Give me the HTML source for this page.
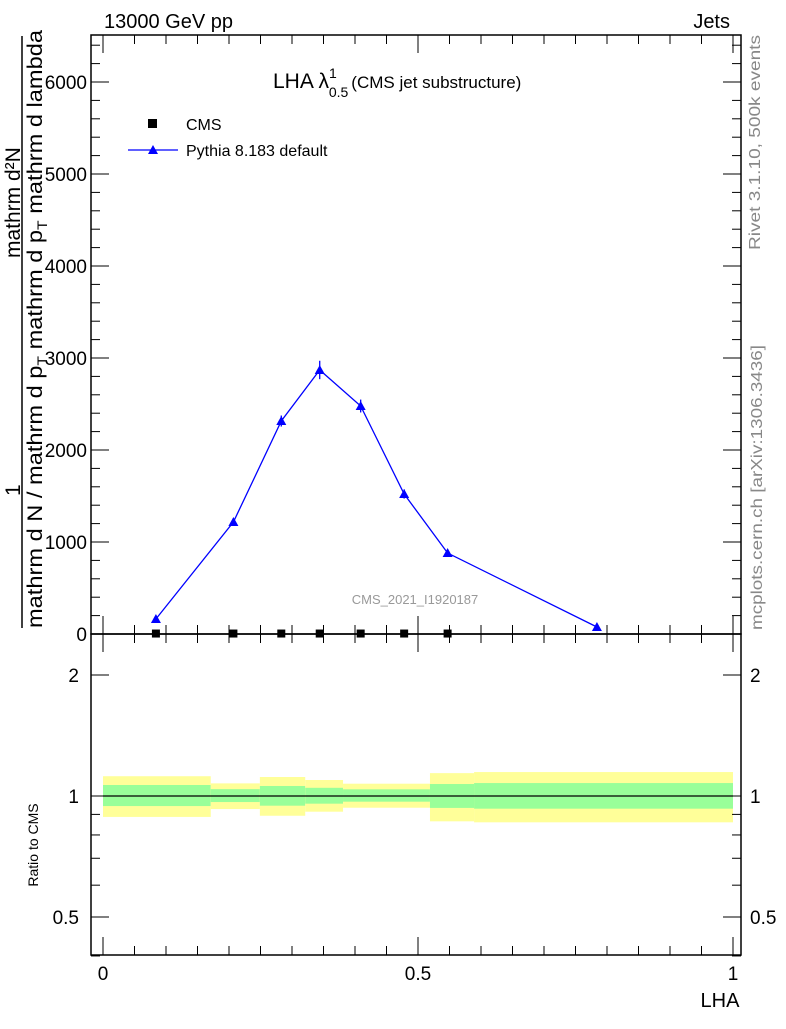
<!DOCTYPE html>
<html><head><meta charset="utf-8"><style>
body{margin:0;background:#fff;}
svg text{font-family:"Liberation Sans",sans-serif;}
</style></head><body>
<svg id="c" width="786" height="1024" viewBox="0 0 786 1024" xmlns="http://www.w3.org/2000/svg">
<g id="bands"></g>
<g id="main"></g>
<g id="axes"></g>
<text x="104" y="28" font-size="20">13000 GeV pp</text>
<text x="730" y="28" font-size="20" text-anchor="end">Jets</text>
<text x="273" y="88" font-size="21">LHA λ<tspan font-size="14" dy="-10">1</tspan><tspan font-size="14" dx="-8" dy="19">0.5</tspan><tspan font-size="17" dy="-9" dx="3">(CMS jet substructure)</tspan></text>
<rect x="148" y="119" width="9" height="9" fill="#000"/>
<text x="186" y="130" font-size="16">CMS</text>
<line x1="128" y1="150" x2="178" y2="150" stroke="#00f" stroke-width="1.3"/>
<polygon points="153,145 148,154 158,154" fill="#00f"/>
<text x="186" y="156" font-size="16">Pythia 8.183 default</text>
<text x="415" y="604" font-size="13" fill="#999" text-anchor="middle">CMS_2021_I1920187</text>
<text transform="translate(760,250) rotate(-90)" font-size="16" fill="#888" textLength="215" lengthAdjust="spacingAndGlyphs">Rivet 3.1.10,  500k events</text>
<text transform="translate(762,630) rotate(-90)" font-size="16" fill="#888" textLength="285" lengthAdjust="spacingAndGlyphs">mcplots.cern.ch [arXiv:1306.3436]</text>
<text transform="translate(20,258) rotate(-90)" font-size="21">mathrm d²N</text>
<text transform="translate(20,496) rotate(-90)" font-size="21">1</text>
<line x1="22" y1="628" x2="22" y2="36" stroke="#000" stroke-width="1.5"/>
<text transform="translate(42,628) rotate(-90)" font-size="21" textLength="598" lengthAdjust="spacingAndGlyphs">mathrm d N / mathrm d p<tspan font-size="14" dy="5">T</tspan><tspan dy="-5"> mathrm d p</tspan><tspan font-size="14" dy="5">T</tspan><tspan dy="-5"> mathrm d lambda</tspan></text>
<text transform="translate(38,845) rotate(-90)" font-size="14" text-anchor="middle">Ratio to CMS</text>
<text x="720" y="1007" font-size="20" text-anchor="middle">LHA</text>
</svg>
<script>
const xVals=[0.084,0.207,0.283,0.344,0.409,0.478,0.547,0.784];
const pythiaVals=[163,1217,2315,2870,2478,1522,880,76];
const pythiaErr=[20,40,60,100,70,50,30,10];
const cmsX=[0.084,0.207,0.283,0.344,0.409,0.478,0.547];
const cmsVals=[5,5,5,5,5,5,5];
const binEdges=[0,0.171,0.249,0.321,0.381,0.519,0.589,1.0];
const yellowHi=[1.12,1.075,1.115,1.096,1.073,1.14,1.147];
const yellowLo=[0.887,0.928,0.893,0.914,0.935,0.865,0.86];
const greenHi=[1.065,1.04,1.059,1.048,1.039,1.071,1.077];
const greenLo=[0.944,0.966,0.946,0.957,0.968,0.934,0.93];
const yTicks=[0,1000,2000,3000,4000,5000,6000];
const rTicks=[0.5,1,2];
const xTicks=[0,0.5,1];
const NS="http://www.w3.org/2000/svg";
const L=91,R=741,T=35,MB=634,RB=955;
const X=v=>103+v*630;
const Y=v=>634-v*0.092;
const RY=r=>796-121*Math.log2(r);
function mk(p,tag,a){const e=document.createElementNS(NS,tag);for(const k in a)e.setAttribute(k,a[k]);p.appendChild(e);return e;}
const bands=document.getElementById('bands'),main=document.getElementById('main'),ax=document.getElementById('axes');
for(let i=0;i<yellowHi.length;i++){
 const x1=X(binEdges[i]),x2=X(binEdges[i+1]);
 let r=mk(bands,'rect',{x:x1,y:RY(yellowHi[i]),width:x2-x1,height:RY(yellowLo[i])-RY(yellowHi[i]),fill:'#ffff99'});
 
 
 let g=mk(bands,'rect',{x:x1,y:RY(greenHi[i]),width:x2-x1,height:RY(greenLo[i])-RY(greenHi[i]),fill:'#99ff99'});
 
 
}
let rl=mk(bands,'line',{x1:X(0),x2:X(1),y1:RY(1),y2:RY(1),stroke:'#000','stroke-width':1.2});


let pl=mk(main,'polyline',{points:xVals.map((x,i)=>X(x)+','+Y(pythiaVals[i])).join(' '),fill:'none',stroke:'#00f','stroke-width':1.3});


xVals.forEach((x,i)=>{
 const cx=X(x),cy=Y(pythiaVals[i]);
 let e=mk(main,'line',{x1:cx,x2:cx,y1:Y(pythiaVals[i]+pythiaErr[i]),y2:Y(pythiaVals[i]-pythiaErr[i]),stroke:'#00f','stroke-width':1.3});
 
 
 let m=mk(main,'polygon',{points:`${cx},${cy-5} ${cx-5},${cy+4} ${cx+5},${cy+4}`,fill:'#00f'});
 
 
});
cmsX.forEach((x,i)=>{
 let m=mk(main,'rect',{x:X(x)-4,y:Y(cmsVals[i])-4,width:8,height:8,fill:'#000'});
 
 
});
[[T,MB],[MB,RB]].forEach(([t,b])=>{
 let f=mk(ax,'rect',{x:L,y:t,width:R-L,height:b-t,fill:'none',stroke:'#000','stroke-width':1.5});
 
 
});
for(let v=0;v<=6400;v+=200){
 const y=Y(v);if(y<T)break;const big=v%1000===0;const len=big?18:9;
 mk(ax,'line',{x1:L,x2:L+len,y1:y,y2:y,stroke:'#000','stroke-width':1});
 mk(ax,'line',{x1:R,x2:R-len,y1:y,y2:y,stroke:'#000','stroke-width':1});
}
yTicks.forEach(v=>{
 let t=mk(ax,'text',{x:L-4,y:Y(v)+7,'font-size':19,'text-anchor':'end'});t.textContent=v;
 
 
});
[0.4,0.5,0.6,0.7,0.8,0.9,1,2].forEach(r=>{const y=RY(r);const big=rTicks.includes(r);const len=big?18:9;
 mk(ax,'line',{x1:L,x2:L+len,y1:y,y2:y,stroke:'#000'});mk(ax,'line',{x1:R,x2:R-len,y1:y,y2:y,stroke:'#000'});});
rTicks.forEach(r=>{
 let t=mk(ax,'text',{x:L-12,y:RY(r)+7,'font-size':19,'text-anchor':'end'});t.textContent=r;
 
 
 let t2=mk(ax,'text',{x:R+9,y:RY(r)+7,'font-size':19});t2.textContent=r;
 
 
});
for(let i=0;i<=20;i++){const v=i*0.05,x=X(v);const big=i%10===0;const len=big?18:9;
 mk(ax,'line',{x1:x,x2:x,y1:RB,y2:RB-len,stroke:'#000'});
 mk(ax,'line',{x1:x,x2:x,y1:MB,y2:MB-len,stroke:'#000'});
 mk(ax,'line',{x1:x,x2:x,y1:T,y2:T+len,stroke:'#000'});
 mk(ax,'line',{x1:x,x2:x,y1:MB,y2:MB+len,stroke:'#000'});
}
xTicks.forEach(v=>{
 let t=mk(ax,'text',{x:X(v),y:980,'font-size':19,'text-anchor':'middle'});t.textContent=v;
 
 
});
</script>
</body></html>
